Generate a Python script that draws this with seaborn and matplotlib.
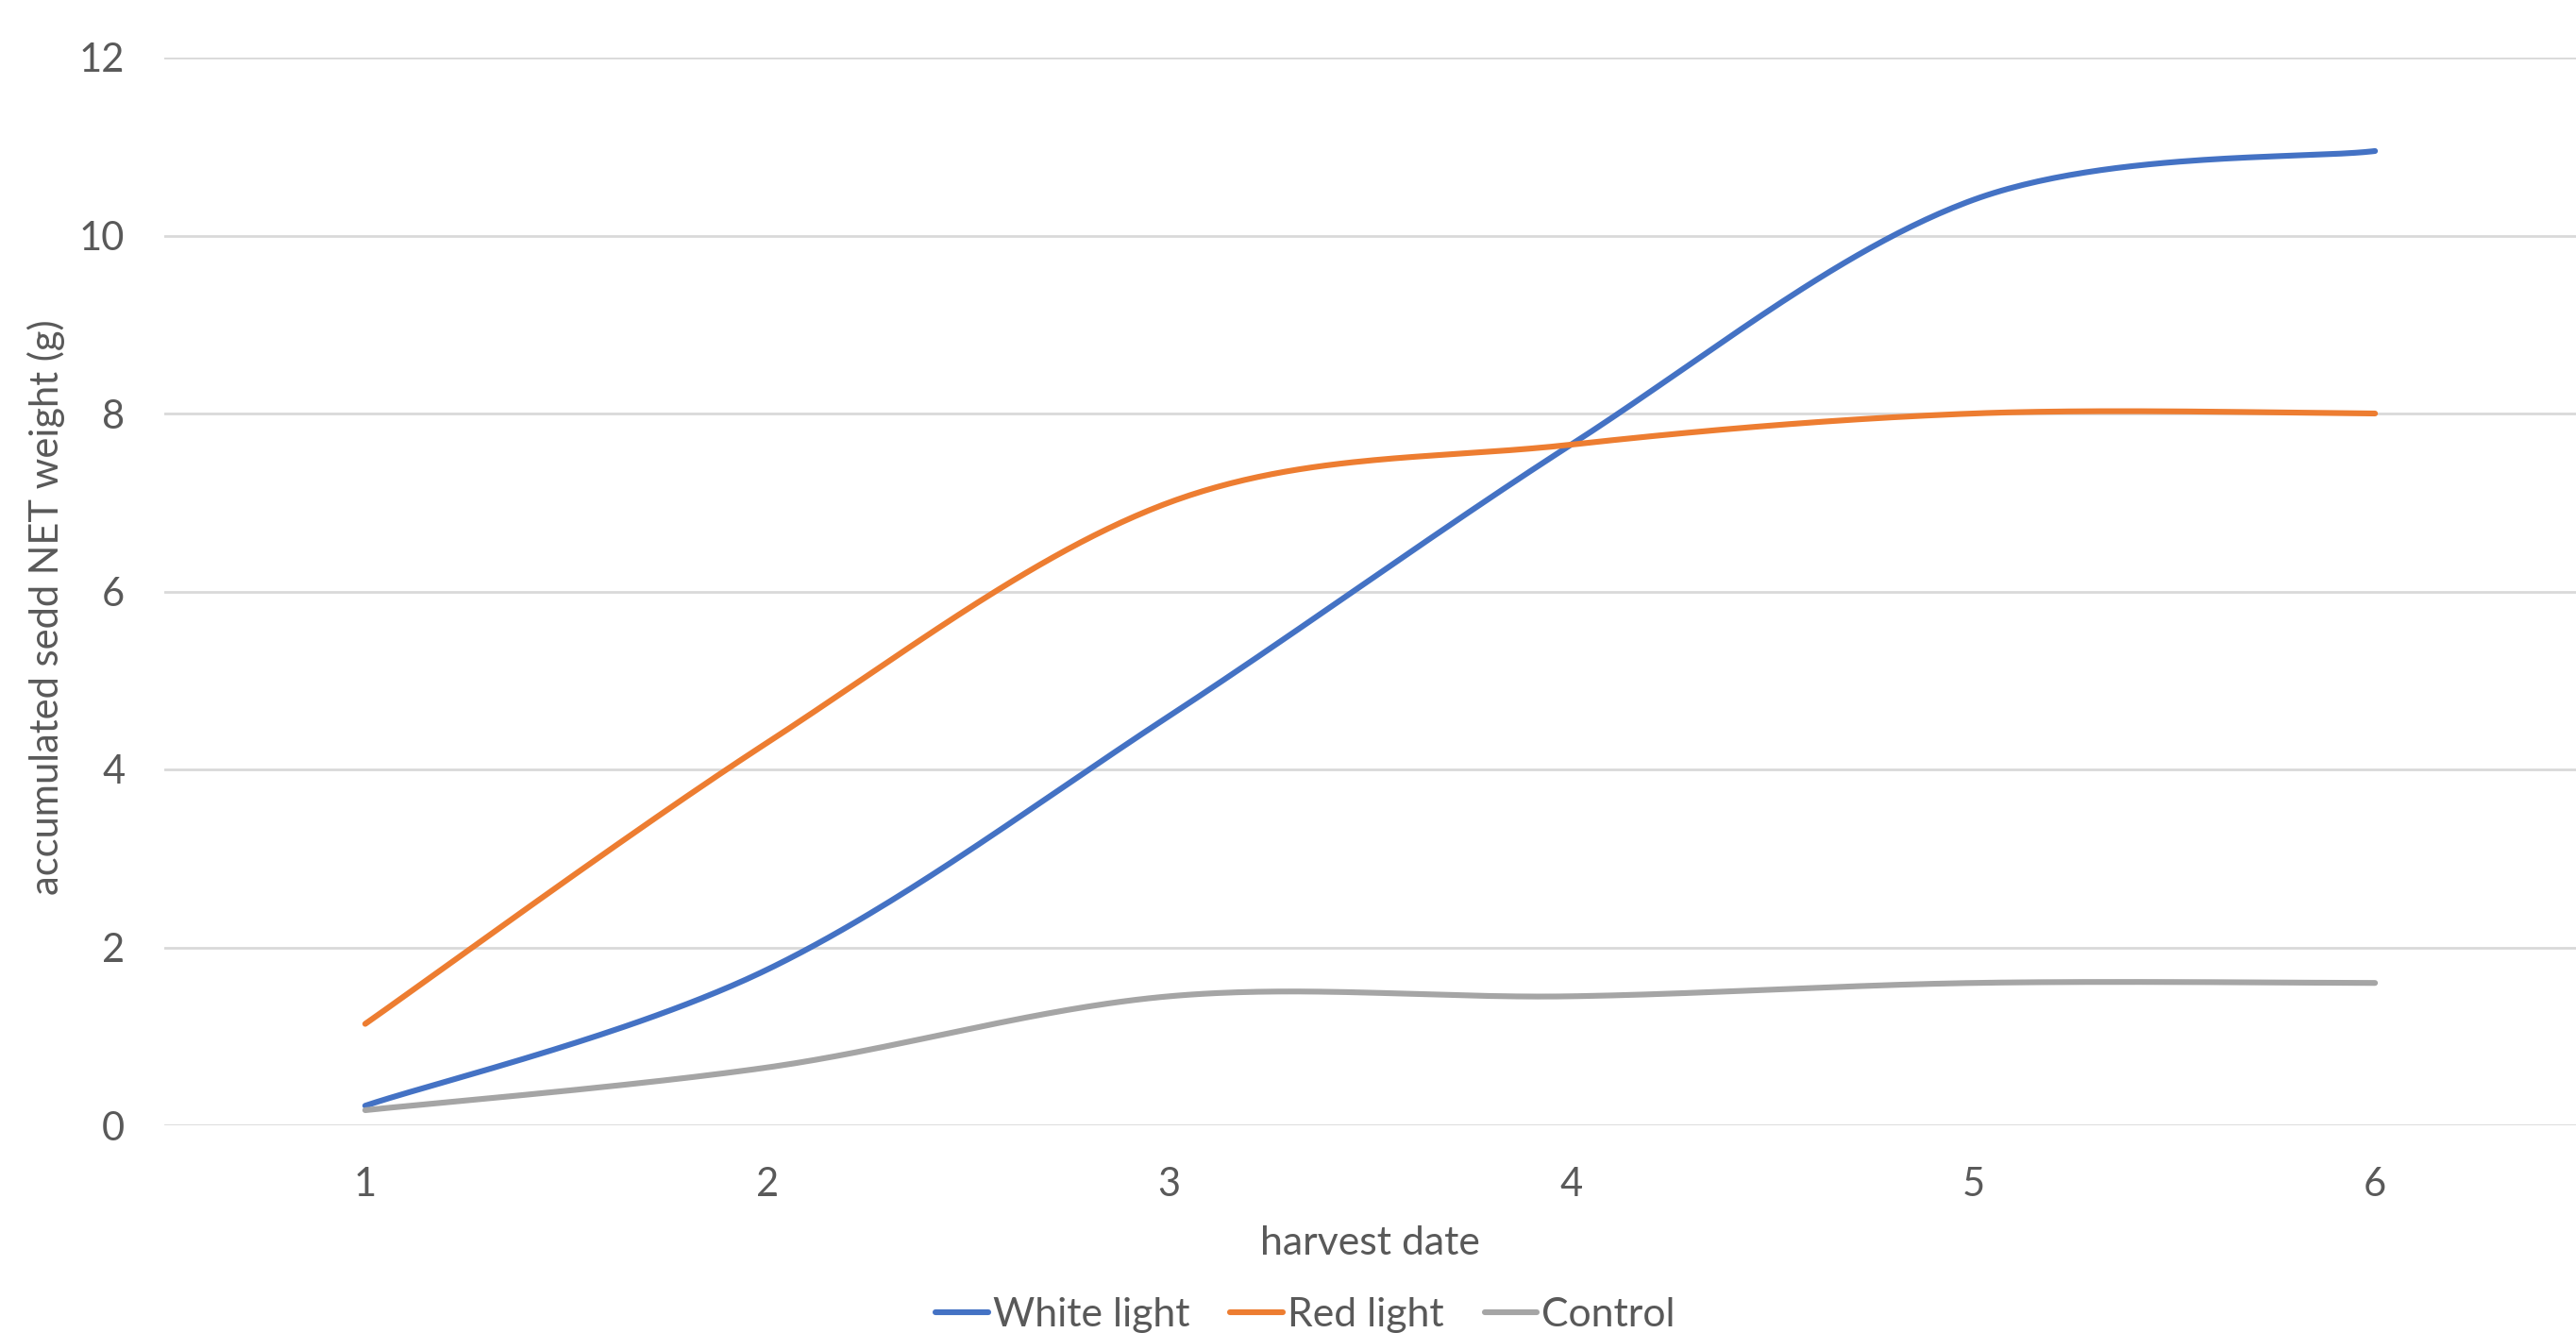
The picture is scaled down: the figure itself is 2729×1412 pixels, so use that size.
import numpy as np
import pandas as pd
import matplotlib.pyplot as plt
import seaborn as sns

# datos
harvest = [1, 2, 3, 4, 5, 6]
white_light = [0.22, 1.75, 4.6, 7.65, 10.4, 10.95]
red_light = [1.14, 4.3, 7.0, 7.65, 8.0, 8.0]
control = [0.17, 0.65, 1.45, 1.45, 1.6, 1.6]

series_names = ['White light', 'Red light', 'Control']
colors = ['#4472C4', '#ED7D31', '#A5A5A5']


def smooth(x, y, n=60):
    # curva suavizada tipo Excel (bezier con tangentes catmull-rom)
    x = np.asarray(x, float)
    y = np.asarray(y, float)
    px = np.concatenate([[x[0]], x, [x[-1]]])
    py = np.concatenate([[y[0]], y, [y[-1]]])
    xs, ys = [], []
    t = np.linspace(0, 1, n)
    for i in range(1, len(px) - 2):
        p0 = np.array([px[i], py[i]])
        p3 = np.array([px[i + 1], py[i + 1]])
        p1 = p0 + (p3 - np.array([px[i - 1], py[i - 1]])) / 6
        p2 = p3 - (np.array([px[i + 2], py[i + 2]]) - p0) / 6
        b = ((1 - t) ** 3)[:, None] * p0 + (3 * (1 - t) ** 2 * t)[:, None] * p1 \
            + (3 * (1 - t) * t ** 2)[:, None] * p2 + (t ** 3)[:, None] * p3
        xs.append(b[:, 0])
        ys.append(b[:, 1])
    return np.concatenate(xs), np.concatenate(ys)


frames = []
for name, vals in zip(series_names, [white_light, red_light, control]):
    sx, sy = smooth(harvest, vals)
    frames.append(pd.DataFrame({'x': sx, 'y': sy, 'serie': name}))
df = pd.concat(frames, ignore_index=True)

sns.set_theme(style='white')
plt.rcParams['font.family'] = ['Lato', 'DejaVu Sans']

fig = plt.figure(figsize=(2729 / 200, 1412 / 200), dpi=200)
ax = fig.add_axes([174 / 2729, 1 - 1192 / 1412, 1 - 174 / 2729, (1192 - 61) / 1412])

sns.lineplot(data=df, x='x', y='y', hue='serie', palette=colors, hue_order=series_names,
             units='serie', estimator=None, sort=False, linewidth=2.2, ax=ax, legend=True)
for line in ax.lines:
    line.set_solid_capstyle('round')

ax.set_xlim(0.5, 6.5)
ax.set_ylim(0, 12)
ax.set_xticks(harvest)
ax.set_yticks(range(0, 13, 2))
ax.yaxis.grid(True, color='#D9D9D9', linewidth=1.0)
ax.xaxis.grid(False)
for s in ax.spines.values():
    s.set_visible(False)
ax.tick_params(axis='both', length=0, labelsize=15, labelcolor='#595959')
ax.tick_params(axis='y', pad=15)
ax.tick_params(axis='x', pad=16)

ax.set_xlabel('harvest date', fontsize=15.4, color='#595959')
ax.set_ylabel('accumulated sedd NET weight (g)', fontsize=15, color='#595959')
ax.xaxis.set_label_coords(0.5, -0.094)
ax.yaxis.set_label_coords(-0.041, 0.485)

handles, labels = ax.get_legend_handles_labels()
ax.get_legend().remove()
fig.legend(handles, labels, loc='lower center', bbox_to_anchor=(0.5068, -0.012), ncol=3,
           frameon=False, fontsize=15.4, labelcolor='#595959', handlelength=1.3,
           handletextpad=0.12, columnspacing=1.0, borderaxespad=0)

fig.savefig('out.png', dpi=200)
